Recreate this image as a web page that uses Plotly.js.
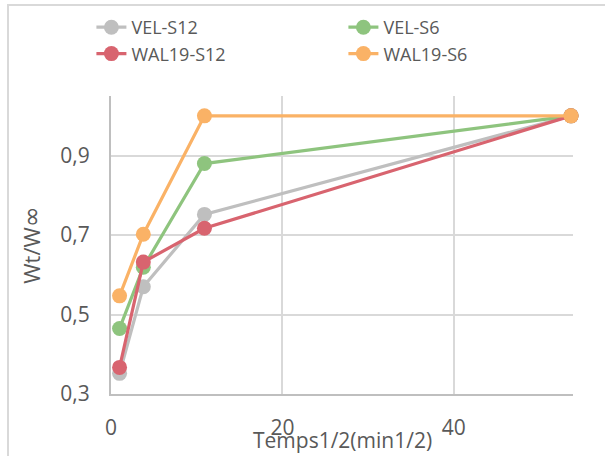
<!DOCTYPE html>
<html><head><meta charset="utf-8">
<script src="https://cdn.plot.ly/plotly-3.0.1.min.js"></script>
<style>
html,body{margin:0;padding:0;background:#fff;}
#wrap{position:relative;width:605px;height:456px;overflow:hidden;}
#chart{position:absolute;left:0;top:0;width:605px;height:456px;}
#frame{position:absolute;left:7px;top:4px;width:620px;height:470px;border:2px solid #d9d9d9;box-sizing:border-box;pointer-events:none;}
</style></head>
<body><div id="wrap"><div id="chart"></div><div id="frame"></div></div>
<script>
const xValues = [1, 3.77, 10.9, 53.67];
const seriesNames = ["VEL-S12", "VEL-S6", "WAL19-S12", "WAL19-S6"];
const velS12 = [0.352, 0.570, 0.752, 1.0];
const velS6 = [0.465, 0.619, 0.880, 1.0];
const wal19S12 = [0.367, 0.632, 0.717, 1.0];
const wal19S6 = [0.547, 0.702, 1.0, 1.0];
const xTicks = [0, 20, 40];
const yTicks = [0.3, 0.5, 0.7, 0.9];
const yTickLabels = ["0,3", "0,5", "0,7", "0,9"];
const xTitle = "Temps1/2(min1/2)";
const yTitle = "Wt/W<span style='font-family:DejaVu Sans;font-size:25px'>∞</span>";

const colors = ["#bfbfbf", "#8ec47e", "#d8646f", "#fab266"];
const data = [velS12, velS6, wal19S12, wal19S6].map((ys, i) => ({
  type: "scatter", mode: "lines+markers", name: seriesNames[i],
  x: xValues, y: ys,
  line: {color: colors[i], width: 3.2},
  marker: {color: colors[i], size: 15},
  cliponaxis: false
}));

const legendFont = {family: "Open Sans, sans-serif", color: "#595959", size: 18};
const axisFont = {family: "Open Sans, sans-serif", color: "#595959", size: 21};
const layout = {
  width: 605, height: 456,
  margin: {l: 111, r: 32, t: 96, b: 62, autoexpand: false},
  paper_bgcolor: "#fff", plot_bgcolor: "#fff",
  font: legendFont,
  showlegend: true,
  legend: {orientation: "h", x: -0.0424, xanchor: "left", y: 1.292, yanchor: "top",
           entrywidth: 207, entrywidthmode: "pixels", font: legendFont, bgcolor: "rgba(0,0,0,0)"},
  xaxis: {range: [0, 53.9], tickvals: xTicks, ticktext: xTicks.map(String),
          showgrid: true, gridcolor: "#d9d9d9", gridwidth: 2,
          showline: true, linecolor: "#bfbfbf", linewidth: 2,
          zeroline: false, ticks: "", ticklabelstandoff: 14,
          tickfont: axisFont},
  yaxis: {range: [0.3, 1.05], tickvals: yTicks, ticktext: yTickLabels,
          showgrid: true, gridcolor: "#d9d9d9", gridwidth: 2,
          showline: true, linecolor: "#bfbfbf", linewidth: 2,
          zeroline: false, ticks: "", ticklabelstandoff: 15,
          tickfont: axisFont,
          title: {text: yTitle, font: {family: "Open Sans, sans-serif", color: "#595959", size: 22}, standoff: 14}},
  annotations: [{text: xTitle, xref: "paper", yref: "paper", x: 0.5, y: 0,
                 xanchor: "center", yanchor: "middle", yshift: -46, showarrow: false,
                 font: axisFont}]
};
Plotly.newPlot("chart", data, layout, {displayModeBar: false, staticPlot: true});
</script></body></html>
